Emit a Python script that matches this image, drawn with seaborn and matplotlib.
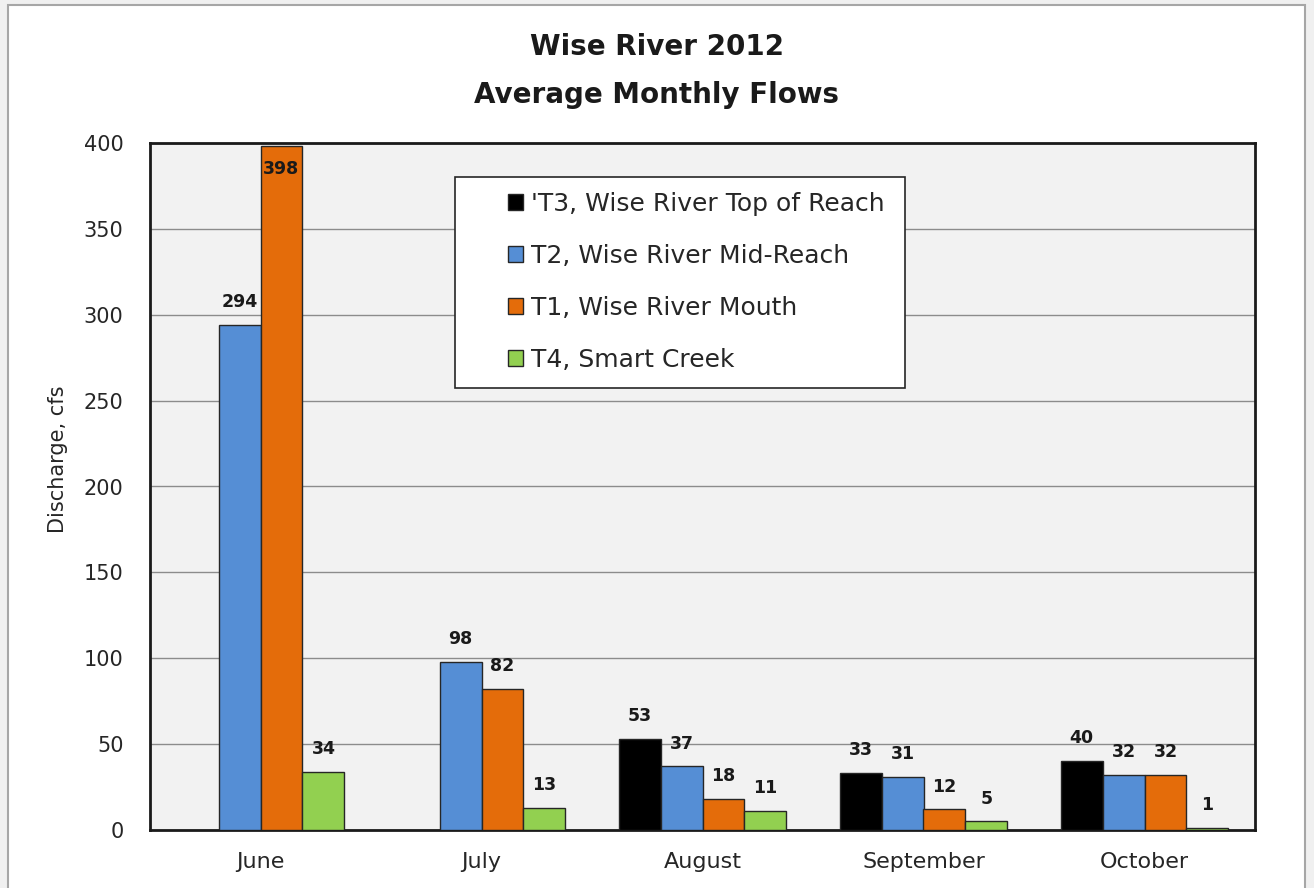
import matplotlib
matplotlib.use("Agg")
import matplotlib.pyplot as plt
import numpy as np
import pandas as pd
import seaborn as sns
from matplotlib.patches import Rectangle

months = ["June", "July", "August", "September", "October"]
series = [
    "'T3, Wise River Top of Reach",
    "T2, Wise River Mid-Reach",
    "T1, Wise River Mouth",
    "T4, Smart Creek",
]
t3 = [np.nan, np.nan, 53, 33, 40]
t2 = [294, 98, 37, 31, 32]
t1 = [398, 82, 18, 12, 32]
t4 = [34, 13, 11, 5, 1]
colors = ["#000000", "#558ED5", "#E46C0A", "#92D050"]

rows = []
for name, vals in zip(series, [t3, t2, t1, t4]):
    for m, v in zip(months, vals):
        rows.append({"month": m, "series": name, "flow": v})
df = pd.DataFrame(rows)

sns.set_style("white")
plt.rcParams["font.family"] = ["DejaVu Sans"]

fig = plt.figure(figsize=(13.14, 8.88), dpi=100)
fig.patch.set_facecolor("#f0f0f0")
fig.add_artist(Rectangle((8 / 1314, -0.1), 1297 / 1314, 1.1 - 5 / 888,
                         transform=fig.transFigure, facecolor="white",
                         edgecolor="#a6a6a6", linewidth=1.5, zorder=0))
ax = fig.add_axes([150 / 1314, 58 / 888, 1105 / 1314, 687 / 888])
ax.set_facecolor("#f2f2f2")

sns.barplot(data=df, x="month", y="flow", hue="series", order=months,
            hue_order=series, palette=colors, width=0.76, ax=ax,
            edgecolor="#262626", linewidth=1.0, saturation=1, zorder=3)

ax.set_ylim(0, 400)
ax.set_yticks(range(0, 401, 50))
ax.yaxis.grid(True, color="#8c8c8c", linewidth=1.0, zorder=0)
ax.set_axisbelow(True)
for s in ax.spines.values():
    s.set_visible(True)
    s.set_color("#1a1a1a")
    s.set_linewidth(2)
ax.tick_params(axis="both", length=0, labelcolor="#262626")
ax.tick_params(axis="y", pad=19, labelsize=15)
ax.tick_params(axis="x", pad=16, labelsize=16)
ax.set_xlabel("")
ax.set_ylabel("Discharge, cfs", fontsize=15, color="#262626")
ax.yaxis.set_label_coords(-0.074, 0.539)

for cont in ax.containers:
    for p in cont.patches:
        h = p.get_height()
        if np.isnan(h):
            continue
        x = p.get_x() + p.get_width() / 2
        if h > 380:
            ax.text(x, h - 8, f"{h:.0f}", ha="center", va="top",
                    fontsize=12.5, fontweight="bold", color="#1a1a1a", zorder=5)
        else:
            ax.annotate(f"{h:.0f}", (x, h), xytext=(0, 10),
                        textcoords="offset points", ha="center", va="bottom",
                        fontsize=12.5, fontweight="bold", color="#1a1a1a",
                        zorder=5)

# legend box drawn separately so its padding can match the original
ax.add_patch(Rectangle((0.276, 0.6434), 0.4072, 0.3071, transform=ax.transAxes,
                       facecolor="white", edgecolor="#262626", linewidth=1.2,
                       zorder=6))
leg = ax.legend(loc="upper left", bbox_to_anchor=(0.324, 0.9287), fontsize=18,
                frameon=False, borderpad=0, labelspacing=1.12,
                handlelength=0.6, handleheight=0.6, handletextpad=0.3,
                borderaxespad=0)
leg.set_zorder(7)
leg.set_title(None)
for t in leg.get_texts():
    t.set_color("#262626")

fig.text(0.5, 1 - 71 / 888, "Wise River 2012\nAverage Monthly Flows",
         ha="center", va="center", fontsize=20, fontweight="bold",
         color="#1a1a1a", linespacing=1.9)

fig.savefig("out.png", dpi=100, facecolor=fig.get_facecolor())
